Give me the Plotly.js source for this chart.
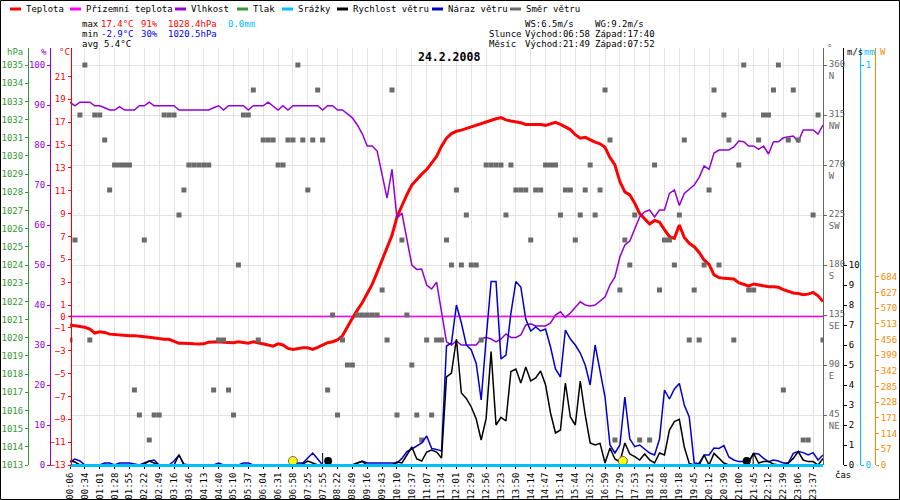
<!DOCTYPE html>
<html>
<head>
<meta charset="utf-8">
<script src="https://cdn.plot.ly/plotly-3.0.1.min.js"></script>
<style>
  html, body { margin: 0; padding: 0; background: #fff; }
  #graph { width: 900px; height: 500px; }
</style>
</head>
<body>
<div id="graph"></div>
<script>
// time label shown under every third sample
var timeLabels = ['00:06','00:34','01:01','01:28','01:55','02:22','02:49','03:16','03:46','04:13',
  '04:40','05:10','05:37','06:04','06:31','06:58','07:25','07:55','08:22','08:49',
  '09:16','09:43','10:10','10:37','11:07','11:34','12:01','12:29','12:56','13:23',
  '13:50','14:14','14:47','15:14','15:44','16:32','16:59','17:29','17:53','18:21',
  '18:48','19:18','19:45','20:12','20:39','21:00','21:45','22:12','22:39','23:06','23:37'];

// one value per sample (153 samples)
var temperature = [
  -0.75,-0.8,-0.85,-0.95,-1.1,-1.45,-1.35,-1.4,-1.55,-1.6,
  -1.65,-1.7,-1.7,-1.68,-1.7,-1.77,-1.83,-1.9,-1.98,-2.0,
  -2.0,-2.2,-2.35,-2.35,-2.4,-2.4,-2.41,-2.4,-2.25,-2.21,
  -2.21,-2.25,-2.3,-2.3,-2.21,-2.3,-2.35,-2.21,-2.3,-2.35,
  -2.5,-2.6,-2.4,-2.5,-2.8,-2.9,-2.8,-2.75,-2.75,-2.88,
  -2.7,-2.5,-2.3,-2.21,-2.05,-1.7,-0.9,-0.17,0.55,1.2,
  2.0,2.8,3.85,4.9,6.1,7.1,8.7,9.7,10.65,11.5,
  12.0,12.45,12.85,13.4,14.0,14.9,15.6,16.0,16.2,16.3,
  16.45,16.6,16.7,16.9,17.05,17.2,17.3,17.4,17.2,17.1,
  17.05,16.95,16.8,16.8,16.84,16.8,16.72,16.85,16.98,16.8,
  16.6,16.35,15.9,15.6,15.67,15.45,15.25,15.1,14.8,13.9,
  13.25,11.8,10.9,10.63,9.9,9.0,8.5,8.09,8.4,8.25,
  7.6,6.98,6.83,8.0,6.9,6.4,6.1,5.6,4.94,4.55,
  3.63,3.4,3.33,3.3,3.28,2.95,2.8,2.66,2.84,2.75,
  2.69,2.6,2.6,2.55,2.35,2.2,2.05,2.0,1.9,1.95,
  2.1,1.8,1.3];

var groundTemp = [
  0,0,0,0,0,0,0,0,0,0, 0,0,0,0,0,0,0,0,0,0, 0,0,0,0,0,0,0,0,0,0,
  0,0,0,0,0,0,0,0,0,0, 0,0,0,0,0,0,0,0,0,0, 0,0,0,0,0,0,0,0,0,0,
  0,0,0,0,0,0,0,0,0,0, 0,0,0,0,0,0,0,0,0,0, 0,0,0,0,0,0,0,0,0,0,
  0,0,0,0,0,0,0,0,0,0, 0,0,0,0,0,0,0,0,0,0, 0,0,0,0,0,0,0,0,0,0,
  0,0,0,0,0,0,0,0,0,0, 0,0,0,0,0,0,0,0,0,0, 0,0,0,0,0,0,0,0,0,0,
  0,0,0];

var humidity = [
  90.7,89.8,90.7,90.7,90.7,89.8,89.8,89.3,88.75,88.75,
  89.6,88.75,88.75,88.75,89.8,89.8,90.7,89.8,89.8,89.8,
  89.8,89.8,88.75,88.75,88.75,88.75,88.75,88.75,88.75,89.3,
  89.8,88.75,89.8,89.8,89.8,89.8,88.75,89.8,89.8,89.8,
  90.7,89.8,88.75,89.8,88.75,89.8,89.8,89.8,89.8,89.8,
  89.8,88.75,89.8,89.8,88.75,88.75,87.75,86.8,85,82.8,
  79.75,79.75,78.5,72.8,66.7,73.9,61.7,63,56.5,50,
  48.9,49,45,44,45.7,38,30.8,30,31,30,
  30,30,30,31.5,31.9,31.5,30.8,31.5,32.75,31.9,
  31.9,32.5,35,35.3,34.75,34.75,34.75,35.5,37.5,38.3,
  36.9,38,39.5,40.8,40,39.75,40,41,42,45,
  47,52,55,56,59,62,63.3,63.75,62,63.75,
  63.75,67.9,68.75,64.9,67.9,69,70,71.9,74.75,73.9,
  78,78.75,78.75,78.75,79.5,81,80.8,79.75,79.75,78.9,
  79.75,77.75,80.8,80.8,81.8,82,82.25,80.8,83.75,83.75,
  83.75,82.75,85];

var rain = [
  0,0,0,0,0,0,0,0,0,0, 0,0,0,0,0,0,0,0,0,0, 0,0,0,0,0,0,0,0,0,0,
  0,0,0,0,0,0,0,0,0,0, 0,0,0,0,0,0,0,0,0,0, 0,0,0,0,0,0,0,0,0,0,
  0,0,0,0,0,0,0,0,0,0, 0,0,0,0,0,0,0,0,0,0, 0,0,0,0,0,0,0,0,0,0,
  0,0,0,0,0,0,0,0,0,0, 0,0,0,0,0,0,0,0,0,0, 0,0,0,0,0,0,0,0,0,0,
  0,0,0,0,0,0,0,0,0,0, 0,0,0,0,0,0,0,0,0,0, 0,0,0,0,0,0,0,0,0,0,
  0,0,0];

// no pressure or solar readings are drawn on this day
var pressure = [null];
var solar = [null];

var windSpeed = [
  0.2,0.15,0,0,0,0,0,0,0,0,
  0,0,0,0,0,0.05,0.2,0.1,0,0,
  0,0,0.5,0,0,0,0,0,0,0,
  0,0,0,0,0,0,0,0,0,0,
  0,0,0,0,0,0,0,0.05,0.2,0.1,
  0,0,0,0,0,0,0,0,0.1,0.17,
  0,0,0,0,0,0,0.15,0.1,0.5,0.9,
  0.3,0.2,0.65,0.75,0.65,0.35,4.4,4.6,6.3,3.6,
  3.33,2.9,2.3,1.25,2.33,5.67,2.0,2.38,2.2,4.67,
  4.8,4.1,4.9,4.2,4.35,4.7,4.0,2.6,1.6,1.75,
  4.1,2.4,2.0,4.2,2.5,1.1,1.0,1.08,0.1,0.85,
  0.3,0.15,1.1,0.55,0.42,0.25,0.55,0.25,0.1,0.6,
  0.5,1.75,2.17,2.28,0.9,0.08,0,0,0.5,0,
  0.58,0.33,0.1,0,0,0,0,0.15,0.58,0.1,
  0.17,0.17,0.05,0,0,0.1,0.33,0.67,0.25,0.17,
  0.17,0,0.33];

var windGust = [
  0.15,0.3,0.2,0,0,0,0,0.1,0.1,0,
  0.1,0.1,0.1,0.05,0,0.1,0.2,0.25,0,0,
  0,0.2,0.5,0.05,0,0,0,0,0,0,
  0.1,0,0,0,0,0.1,0.1,0,0,0,
  0,0,0,0,0,0,0.1,0.1,0.35,0.6,
  0.3,0,0,0,0,0,0,0,0.1,0.2,
  0.1,0.1,0.1,0.1,0.1,0.1,0.1,0.33,0.67,0.8,
  0.95,1.1,1.45,0.83,0.78,0.7,5.95,6.1,8.0,7.1,
  6.0,5.75,5.08,3.25,6.3,9.17,9.17,5.3,5.5,7.58,
  9.17,8.9,7.3,6.7,6.9,6.7,6.8,5.9,4.8,4.4,
  6.75,6.3,6.0,5.6,5.0,4.0,6.0,4.6,3.4,1.0,
  0.6,1.0,3.4,1.3,0.92,1.0,0.8,0.6,0.5,1.3,
  3.75,3.3,3.8,4.08,3.0,2.4,0.1,0.08,0.5,0.5,
  0.85,0.83,0.97,0.4,0.25,0.17,0.17,0.17,0.58,0.55,
  0.33,0.17,0.25,0.2,0.1,0.1,0.58,0.67,0.62,0.5,
  0.62,0.25,0.5];

var windDir = [
  112.5,202.5,315,360,112.5,315,315,292.5,247.5,270,
  270,270,270,67.5,45,202.5,22.5,45,45,315,
  315,315,225,247.5,270,270,270,270,270,67.5,
  112.5,112.5,67.5,45,180,315,315,337.5,112.5,292.5,
  292.5,292.5,270,270,292.5,292.5,360,292.5,247.5,292.5,
  337.5,292.5,67.5,135,45,112.5,90,90,135,135,
  135,135,135,157.5,112.5,337.5,45,202.5,135,90,
  45,22.5,112.5,45,112.5,112.5,202.5,180,247.5,180,
  225,180,180,112.5,270,270,270,270,225,270,
  247.5,247.5,247.5,202.5,247.5,247.5,270,270,270,225,
  247.5,247.5,202.5,225,247.5,270,225,247.5,337.5,292.5,
  22.5,157.5,202.5,180,225,22.5,null,22.5,270,157.5,
  202.5,202.5,180,225,292.5,112.5,157.5,112.5,180,247.5,
  337.5,180,315,292.5,112.5,270,360,157.5,157.5,292.5,
  315,315,337.5,360,67.5,292.5,337.5,292.5,22.5,22.5,
  225,315,112.5];

// sun and moon events, as sample positions
var sunEvents = [45, 111.6];
var moonEvents = [52.1, 136.6];
var moonTimeMarks = [51.0, 137.9];

var dirTicks = [45, 90, 135, 180, 225, 270, 315, 360];
var dirNames = ['NE', 'E', 'SE', 'S', 'SW', 'W', 'NW', 'N'];
var tempTicks = [21, 19, 17, 15, 13, 11, 9, 7, 5, 3, 1, 0, -1, -3, -5, -7, -9, -11, -13];
var humTicks = [0, 10, 20, 30, 40, 50, 60, 70, 80, 90, 100];
var pressTicks = [1013,1014,1015,1016,1017,1018,1019,1020,1021,1022,1023,1024,
  1025,1026,1027,1028,1029,1030,1031,1032,1033,1034,1035];
var windTicks = [0, 1, 2, 3, 4, 5, 6, 7, 8, 9, 10];
var solarTicks = [0, 57, 114, 171, 228, 285, 342, 399, 456, 513, 570, 627, 684];

var samples = temperature.map(function (v, i) { return i; });
var labelSamples = timeLabels.map(function (t, i) { return i * 3; });

var mono = 'DejaVu Sans Mono, monospace';
var RED = '#ff0000', MAG = '#ff00ff', PUR = '#9400d3', GRN = '#339933',
    CYA = '#00bfff', BLU = '#0000cc', GRY = '#6b6b6b', ORA = '#ff8800';

function px(x) { return x / 900; }
function py(y) { return 1 - y / 500; }

// short upright ticks at the moon event times
var moonTickX = [], moonTickY = [];
moonTimeMarks.forEach(function (m) {
  moonTickX.push(m, m, null);
  moonTickY.push(0, 0.6, null);
});

var data = [
  { x: samples, y: windDir, type: 'scatter', mode: 'markers', yaxis: 'y4',
    marker: { symbol: 'square', size: 5, color: GRY } },
  { x: [0], y: pressure, type: 'scatter', mode: 'lines', yaxis: 'y3',
    line: { color: GRN, width: 1.5 } },
  { x: [0], y: solar, type: 'scatter', mode: 'lines', yaxis: 'y7',
    line: { color: ORA, width: 1.5 } },
  { x: samples, y: groundTemp, type: 'scatter', mode: 'lines', yaxis: 'y',
    line: { color: MAG, width: 1.5 } },
  { x: samples, y: rain, type: 'scatter', mode: 'lines', yaxis: 'y6',
    line: { color: CYA, width: 2 } },
  { x: samples, y: humidity, type: 'scatter', mode: 'lines', yaxis: 'y2',
    line: { color: PUR, width: 1.5 } },
  { x: samples, y: temperature, type: 'scatter', mode: 'lines', yaxis: 'y',
    line: { color: RED, width: 3 } },
  { x: samples, y: windGust, type: 'scatter', mode: 'lines', yaxis: 'y5',
    line: { color: BLU, width: 1.5 } },
  { x: samples, y: windSpeed, type: 'scatter', mode: 'lines', yaxis: 'y5',
    line: { color: '#000', width: 1.5 } },
  { x: moonTickX, y: moonTickY, type: 'scatter', mode: 'lines', yaxis: 'y5',
    line: { color: '#000', width: 1 } },
  { x: sunEvents, y: sunEvents.map(function () { return 0.2; }), type: 'scatter',
    mode: 'markers', yaxis: 'y5', cliponaxis: false,
    marker: { size: 9, color: '#ffff00', line: { color: '#666', width: 1 } } },
  { x: moonEvents, y: moonEvents.map(function () { return 0.2; }), type: 'scatter',
    mode: 'markers', yaxis: 'y5', cliponaxis: false,
    marker: { size: 8, color: '#000' } }
];

function sideAxis(color, pos, side, range, ticks, extra) {
  var ax = {
    domain: [py(465), py(48)], anchor: 'free', position: pos, side: side,
    overlaying: 'y', range: range, tickmode: 'array', tickvals: ticks,
    showline: true, linecolor: color, linewidth: 1,
    ticks: 'outside', ticklen: 3, tickcolor: color,
    tickfont: { family: mono, size: 9, color: color },
    showgrid: false, zeroline: false, fixedrange: true
  };
  for (var k in extra) ax[k] = extra[k];
  return ax;
}

var annotations = [];
var shapes = [];

var legendItems = [
  ['Teplota', RED, 10], ['Přízemní teplota', MAG, 70], ['Vlhkost', PUR, 175],
  ['Tlak', GRN, 237], ['Srážky', CYA, 282], ['Rychlost větru', '#000', 337],
  ['Náraz větru', BLU, 432], ['Směr větru', GRY, 510]
];
legendItems.forEach(function (it) {
  shapes.push({ type: 'line', xref: 'paper', yref: 'paper',
    x0: px(it[2]), x1: px(it[2] + 11), y0: py(9), y1: py(9),
    line: { color: it[1], width: 3 } });
  annotations.push({ text: it[0], x: px(it[2] + 14), y: py(9), xanchor: 'left' });
});

var infoText = [
  ['max', 80, 24, '#000'], ['17.4°C', 99, 24, RED], ['91%', 139, 24, RED],
  ['1028.4hPa', 166, 24, RED], ['0.0mm', 226, 24, CYA],
  ['min', 80, 34, '#000'], ['-2.9°C', 99, 34, '#0000ff'], ['30%', 139, 34, '#0000ff'],
  ['1020.5hPa', 166, 34, '#0000ff'],
  ['avg', 80, 44, '#000'], ['5.4°C', 102, 44, '#000'],
  ['WS:6.5m/s', 523, 24, '#000'], ['WG:9.2m/s', 593, 24, '#000'],
  ['Slunce', 487, 34, '#000'], ['Východ:06:58', 523, 34, '#000'], ['Západ:17:40', 593, 34, '#000'],
  ['Měsíc', 487, 44, '#000'], ['Východ:21:49', 523, 44, '#000'], ['Západ:07:52', 593, 44, '#000'],
  ['hPa', 5, 52, GRN], ['%', 39, 52, PUR], ['°C', 57, 52, RED],
  ['°', 825, 48, GRY], ['m/s', 845, 52, '#000'], ['mm', 862, 52, CYA], ['W', 878, 52, ORA],
  ['čas', 833, 475, '#000']
];
infoText.forEach(function (t) {
  annotations.push({ text: t[0], x: px(t[1]), y: py(t[2]), xanchor: 'left',
    font: { family: mono, size: 9, color: t[3] } });
});

annotations.push({ text: '<b>24.2.2008</b>', x: px(449), y: py(57), xanchor: 'center',
  font: { family: mono, size: 11.5, color: '#000' } });

annotations = annotations.map(function (a) {
  a.xref = 'paper'; a.yref = 'paper'; a.showarrow = false; a.yanchor = a.yanchor || 'middle';
  a.font = a.font || { family: mono, size: 9, color: '#000' };
  return a;
});

shapes.push({ type: 'rect', xref: 'paper', yref: 'paper', x0: px(0.5), x1: px(899.5),
  y0: py(499.5), y1: py(0.5), line: { color: '#000', width: 1 } });

var layout = {
  width: 900, height: 500, autosize: false,
  margin: { l: 0, r: 0, t: 0, b: 0, pad: 0 },
  paper_bgcolor: '#fff', plot_bgcolor: '#fff',
  showlegend: false,
  font: { family: mono, size: 9, color: '#000' },
  xaxis: {
    domain: [px(70), px(823)], range: [0, 152], anchor: 'y',
    tickmode: 'array', tickvals: labelSamples, ticktext: timeLabels, tickangle: -90,
    tickfont: { family: mono, size: 9, color: '#000' },
    ticks: 'outside', ticklen: 2, tickcolor: '#000',
    showgrid: true, gridcolor: '#e6e2e2', gridwidth: 1, zeroline: false,
    showline: true, linecolor: CYA, linewidth: 2, fixedrange: true
  },
  yaxis: sideAxis(RED, px(70.5), 'left', [-13, -13 + 417 / (400 / 35)], tempTicks, {}),
  yaxis2: sideAxis(PUR, px(50), 'left', [0, 104.25], humTicks, {}),
  yaxis3: sideAxis(GRN, px(28), 'left', [1013, 1013 + 417 / (400 / 22)], pressTicks, {}),
  yaxis4: sideAxis('#666', px(823), 'right', [0, 375.3], dirTicks, {
    ticktext: dirTicks.map(function (d, i) { return d + '<br>' + dirNames[i]; }),
    ticklabelshift: 5, showgrid: true, gridcolor: '#e6e2e2', gridwidth: 1
  }),
  yaxis5: sideAxis('#000', px(843), 'right', [0, 20.85], windTicks, {}),
  yaxis6: sideAxis(CYA, px(860), 'right', [0, 1.0425], [0, 1], {}),
  yaxis7: sideAxis(ORA, px(875), 'right', [0, 684 * 417 / 188.3], solarTicks, {}),
  annotations: annotations,
  shapes: shapes
};
delete layout.yaxis.overlaying;

Plotly.newPlot('graph', data, layout, { staticPlot: true, displayModeBar: false });
</script>
</body>
</html>
